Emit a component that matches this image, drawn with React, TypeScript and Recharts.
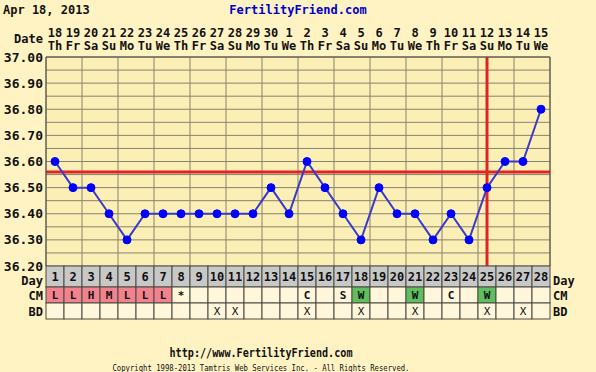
import { ComposedChart, Line, XAxis, YAxis, CartesianGrid, ReferenceLine } from "recharts";

const days = [1, 2, 3, 4, 5, 6, 7, 8, 9, 10, 11, 12, 13, 14, 15, 16, 17, 18, 19, 20, 21, 22, 23, 24, 25, 26, 27, 28];
const dates = ["18", "19", "20", "21", "22", "23", "24", "25", "26", "27", "28", "29", "30", "1", "2", "3", "4", "5", "6", "7", "8", "9", "10", "11", "12", "13", "14", "15"];
const weekdays = ["Th", "Fr", "Sa", "Su", "Mo", "Tu", "We", "Th", "Fr", "Sa", "Su", "Mo", "Tu", "We", "Th", "Fr", "Sa", "Su", "Mo", "Tu", "We", "Th", "Fr", "Sa", "Su", "Mo", "Tu", "We"];
const temps = [36.6, 36.5, 36.5, 36.4, 36.3, 36.4, 36.4, 36.4, 36.4, 36.4, 36.4, 36.4, 36.5, 36.4, 36.6, 36.5, 36.4, 36.3, 36.5, 36.4, 36.4, 36.3, 36.4, 36.3, 36.5, 36.6, 36.6, 36.8];
const cmCodes = ["L", "L", "H", "M", "L", "L", "L", "*", "", "", "", "", "", "", "C", "", "S", "W", "", "", "W", "", "C", "", "W", "", "", ""];
const bdMarks = ["", "", "", "", "", "", "", "", "", "X", "X", "", "", "", "X", "", "", "X", "", "", "X", "", "", "", "X", "", "X", ""];
const tempTicks = [36.2, 36.25, 36.3, 36.35, 36.4, 36.45, 36.5, 36.55, 36.6, 36.65, 36.7, 36.75, 36.8, 36.85, 36.9, 36.95, 37.0];
const coverline = 36.56;
const ovulationDay = 25;

const W = 596;
const H = 372;
const PLOT_L = 46;
const PLOT_R = 550;
const PLOT_T = 57;
const PLOT_B = 266;
const COL_W = (PLOT_R - PLOT_L) / days.length;
const FONT = "'DejaVu Sans Mono', monospace";
const BORDER = "#4a4a40";

const data = days.map((d, i) => ({ day: d, temp: temps[i] }));
const boundaries = [...days.map((d) => d - 0.5), days[days.length - 1] + 0.5];

const cmFill = (c: string) => (["L", "H", "M"].includes(c) ? "#f3828f" : c === "W" ? "#5fbf5f" : "#fff6dc");

function DateTick({ x, payload }: any) {
  const i = days.indexOf(payload.value);
  return (
    <g fontFamily={FONT} fontWeight="bold" fontSize={12} fill="#111">
      <text x={x} y={37} textAnchor="middle">{dates[i]}</text>
      <text x={x} y={50} textAnchor="middle">{weekdays[i]}</text>
    </g>
  );
}

function TableTick({ x, payload }: any) {
  const i = days.indexOf(payload.value);
  const left = x - COL_W / 2;
  const rows = [
    { y: 266, h: 21, fill: "#c8c8c8", text: String(days[i]), size: 12 },
    { y: 287, h: 16, fill: cmFill(cmCodes[i]), text: cmCodes[i], size: 11 },
    { y: 303, h: 16, fill: "#fff6dc", text: bdMarks[i], size: 11 },
  ];
  return (
    <g fontFamily={FONT} fontWeight="bold" fill="#111">
      {rows.map((r, k) => (
        <g key={k}>
          <rect x={left} y={r.y} width={COL_W} height={r.h} fill={r.fill} stroke={BORDER} strokeWidth={1} />
          <text x={x} y={r.y + r.h / 2 + 4} textAnchor="middle" fontSize={r.size} fill="#111" fontWeight={k === 2 ? "normal" : "bold"}>
            {r.text}
          </text>
        </g>
      ))}
    </g>
  );
}

const fmt = (v: number) => (Math.round(v * 100) % 10 === 0 ? v.toFixed(2) : "");

const label = (text: string, x: number, y: number, align: "left" | "right", extra: any = {}) => (
  <div
    style={{
      position: "absolute",
      top: y - 8,
      ...(align === "right" ? { right: W - x } : { left: x }),
      fontFamily: FONT,
      fontWeight: "bold",
      fontSize: 12,
      lineHeight: "16px",
      color: "#111",
      whiteSpace: "nowrap",
      ...extra,
    }}
  >
    {text}
  </div>
);

const tickStyle = { fontFamily: FONT, fontWeight: "bold", fontSize: 13, fill: "#111" };

export default function App() {
  return (
    <div style={{ position: "absolute", left: 0, top: 0, width: W, height: H, background: "#fff3c4", overflow: "hidden" }}>
      <ComposedChart width={W} height={H} data={data} margin={{ top: PLOT_T - 50, right: 0, bottom: H - PLOT_B - 54, left: 0 }}>
        <XAxis xAxisId="grid" type="number" dataKey="day" domain={[0.5, 28.5]} ticks={boundaries} hide />
        <CartesianGrid xAxisId="grid" yAxisId="left" stroke="#86826f" strokeWidth={1} fill="#fcefb6" />
        <XAxis
          xAxisId="day"
          type="number"
          dataKey="day"
          orientation="top"
          domain={[0.5, 28.5]}
          ticks={days}
          interval={0}
          height={50}
          tickLine={false}
          axisLine={{ stroke: BORDER }}
          tick={<DateTick />}
        />
        <XAxis
          xAxisId="table"
          type="number"
          dataKey="day"
          orientation="bottom"
          domain={[0.5, 28.5]}
          ticks={days}
          interval={0}
          height={54}
          tickLine={false}
          axisLine={false}
          tick={<TableTick />}
        />
        <YAxis
          yAxisId="left"
          domain={[36.2, 37.0]}
          ticks={tempTicks}
          interval={0}
          width={PLOT_L}
          tickLine={false}
          tickSize={0}
          tickMargin={3}
          axisLine={{ stroke: BORDER }}
          tickFormatter={fmt}
          tick={tickStyle}
        />
        <YAxis
          yAxisId="right"
          orientation="right"
          domain={[36.2, 37.0]}
          ticks={tempTicks}
          interval={0}
          width={W - PLOT_R}
          tickLine={false}
          tickSize={0}
          tickMargin={4}
          axisLine={{ stroke: BORDER }}
          tickFormatter={fmt}
          tick={tickStyle}
        />
        <ReferenceLine xAxisId="day" yAxisId="left" y={coverline} stroke="#e02424" strokeWidth={3} />
        <ReferenceLine xAxisId="day" yAxisId="left" x={ovulationDay} stroke="#e02424" strokeWidth={3} />
        <Line
          xAxisId="day"
          yAxisId="left"
          dataKey="temp"
          stroke="#3a3ac8"
          strokeWidth={2}
          dot={{ r: 4, fill: "#0000ff", stroke: "#0000ff", strokeWidth: 1 }}
          isAnimationActive={false}
        />
      </ComposedChart>
      {label("Apr 18, 2013", 3, 10, "left")}
      <div style={{ position: "absolute", top: 2, left: 0, width: W, textAlign: "center", fontFamily: FONT, fontWeight: "bold", fontSize: 12, lineHeight: "16px", color: "#0000cc" }}>
        FertilityFriend.com
      </div>
      {label("Date", 43, 39, "right")}
      {label("Day", 43, 281, "right", { lineHeight: "14px", top: 274 })}
      {label("CM", 43, 296, "right")}
      {label("BD", 43, 312, "right")}
      {label("Day", 553, 281, "left", { lineHeight: "14px", top: 274 })}
      {label("CM", 553, 296, "left")}
      {label("BD", 553, 312, "left")}
      <svg width={W} height={40} style={{ position: "absolute", left: 0, top: 332 }}>
        <text x={261} y={25} textAnchor="middle" fontFamily={FONT} fontWeight="bold" fontSize={12} fill="#111" textLength={183} lengthAdjust="spacingAndGlyphs">
          http://www.FertilityFriend.com
        </text>
        <text x={261} y={39} textAnchor="middle" fontFamily={FONT} fontSize={9} fill="#111" textLength={297} lengthAdjust="spacingAndGlyphs">
          Copyright 1998-2013 Tamtris Web Services Inc. - All Rights Reserved.
        </text>
      </svg>
    </div>
  );
}
